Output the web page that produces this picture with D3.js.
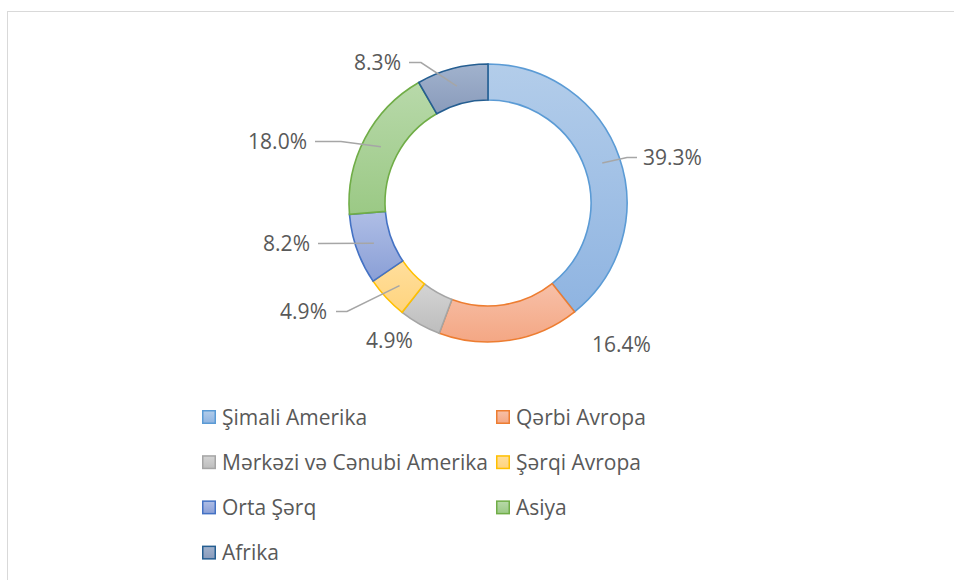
<!DOCTYPE html>
<html><head><meta charset="utf-8">
<script src="https://cdn.jsdelivr.net/npm/d3@7"></script>
<style>html,body{margin:0;padding:0;background:#fff;}svg{display:block;}</style>
</head><body>
<svg id="chart" width="954" height="580"></svg>
<script>
// ---- data ----
const categories = ["Şimali Amerika","Qərbi Avropa","Mərkəzi və Cənubi Amerika","Şərqi Avropa","Orta Şərq","Asiya","Afrika"];
const values = [39.3, 16.4, 4.9, 4.9, 8.2, 18.0, 8.3];
const labels = ["39.3%","16.4%","4.9%","4.9%","8.2%","18.0%","8.3%"];

// ---- styles / layout ----
const colors = ["#5b9bd5","#ed7d31","#a5a5a5","#ffc000","#4472c4","#70ad47","#255e91"];
const topColors = ["#b3cdea","#f7c0a8","#d4d4d4","#ffde9c","#afbee6","#b8d9aa","#a1b2cd"];
const bottomColors = ["#8fb4e1","#f4a784","#bdbdbd","#ffd47e","#8a9fd6","#9bc985","#899bbb"];
const textColor = "#595959";
const fontFamily = "'Open Sans', sans-serif";
const fontSize = 21;
const cx = 488, cy = 203, rOuter = 139, rInner = 103;
// label layout: anchor side, text edge x, text baseline y, leader (gap, elbow length) or null
const labelLayout = [
  {anchor:"start", x:643, y:165, leader:{gap:6, elbow:10}},
  {anchor:"start", x:592, y:352, leader:null},
  {anchor:"start", x:366, y:348, leader:null},
  {anchor:"end",   x:327, y:319, leader:{gap:9, elbow:11}},
  {anchor:"end",   x:310, y:251, leader:{gap:8, elbow:0}},
  {anchor:"end",   x:307, y:149, leader:{gap:8, elbow:26}},
  {anchor:"end",   x:401, y:70,  leader:{gap:8, elbow:12}}
];

const svg = d3.select("#chart");
const defs = svg.append("defs");
colors.forEach((c,i)=>{
  const g = defs.append("linearGradient").attr("id","grad"+i)
    .attr("x1",0).attr("y1",0).attr("x2",0).attr("y2",1);
  g.append("stop").attr("offset","0%").attr("stop-color", topColors[i]);
  g.append("stop").attr("offset","100%").attr("stop-color", bottomColors[i]);
});

// frame
svg.append("rect").attr("x",7.5).attr("y",11.5).attr("width",960).attr("height",600)
  .attr("fill","none").attr("stroke","#d9d9d9").attr("stroke-width",1);

const pie = d3.pie().sort(null).value(d=>d)(values);
const arc = d3.arc().innerRadius(rInner).outerRadius(rOuter);
const arcMid = d3.arc().innerRadius((rInner+rOuter)/2).outerRadius((rInner+rOuter)/2);

const g = svg.append("g").attr("transform",`translate(${cx},${cy})`);
g.selectAll("path.slice").data(pie).join("path").attr("class","slice")
  .attr("d",arc)
  .attr("fill",(d,i)=>`url(#grad${i})`)
  .attr("stroke",(d,i)=>colors[i]).attr("stroke-width",1.6).attr("stroke-linejoin","miter");

// leader lines
pie.forEach((d,i)=>{
  const L = labelLayout[i];
  if(!L.leader) return;
  const [mx,my] = arcMid.centroid(d);
  const sx = cx+mx, sy = cy+my;
  const midY = L.y - 7.5;
  const dir = L.anchor==="start" ? -1 : 1;
  const endX = L.x + dir*L.leader.gap;
  const elbowX = endX + dir*L.leader.elbow;
  svg.append("path")
    .attr("d", d3.line()([[sx,sy],[elbowX,midY],[endX,midY]]))
    .attr("fill","none").attr("stroke","#a6a6a6").attr("stroke-width",1.5);
});

// labels
svg.selectAll("text.lbl").data(labels).join("text").attr("class","lbl")
  .attr("x",(d,i)=>labelLayout[i].x).attr("y",(d,i)=>labelLayout[i].y)
  .attr("text-anchor",(d,i)=>labelLayout[i].anchor)
  .attr("font-family",fontFamily).attr("font-size",fontSize).attr("fill",textColor)
  .text(d=>d);

// legend
const legCols = [202, 496], legRow0 = 417, legRowStep = 45.2, sq = 14;
const leg = svg.selectAll("g.leg").data(categories).join("g").attr("class","leg")
  .attr("transform",(d,i)=>`translate(${legCols[i%2]},${legRow0 + Math.floor(i/2)*legRowStep})`);
leg.append("rect").attr("x",0.75).attr("y",-sq/2+0.75).attr("width",sq-1.5).attr("height",sq-1.5)
  .attr("fill",(d,i)=>`url(#grad${i})`).attr("stroke",(d,i)=>colors[i]).attr("stroke-width",1.5);
leg.append("text").attr("x",20).attr("y",7.5)
  .attr("font-family",fontFamily).attr("font-size",fontSize).attr("fill",textColor)
  .text(d=>d);
</script>
</body></html>
